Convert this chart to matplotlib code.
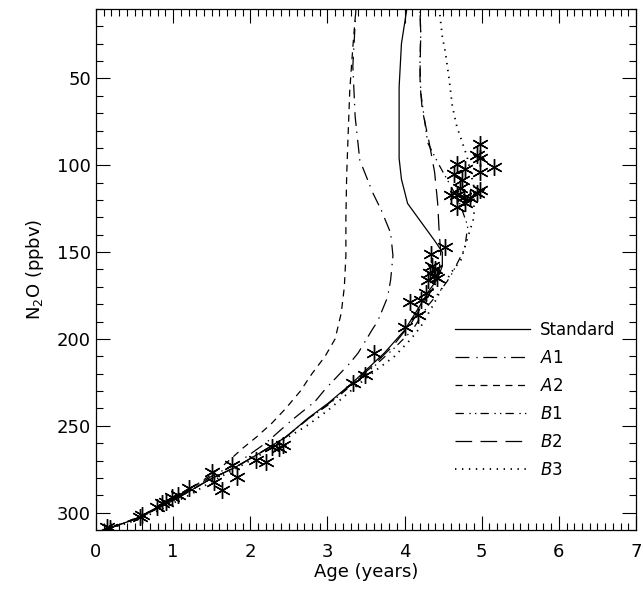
import matplotlib
matplotlib.use("Agg")
import matplotlib.pyplot as plt
from matplotlib.ticker import MultipleLocator

plt.rcParams["font.family"] = "DejaVu Sans"
plt.rcParams["lines.scale_dashes"] = False

# model curves (age in years, N2O in ppbv)
std_age = [0.1, 0.3, 0.55, 0.75, 1.0, 1.2, 1.47, 1.81, 2.15, 2.46, 2.75, 3.01, 3.33, 3.5, 3.74,
           4.0, 4.17, 4.32, 4.42, 4.49, 4.49, 4.40, 4.04, 3.96, 3.93, 3.93, 3.96, 4.03]
std_n2o = [310, 307, 303, 298.6, 293, 288, 281, 273.8, 265, 256.5, 245.6, 237, 225, 218, 208,
           195, 183, 172, 166, 158, 150, 144, 122, 108, 96, 55, 30, 10]

a1_age = [0.1, 0.3, 0.55, 0.75, 1.0, 1.2, 1.5, 1.85, 2.2, 2.54, 2.84, 2.97, 3.29, 3.4, 3.59,
          3.65, 3.78, 3.82, 3.85, 3.82, 3.7, 3.59, 3.42, 3.36, 3.33, 3.37]
a1_n2o = [310, 307, 302.8, 298.3, 292.5, 287.5, 279, 271, 260, 246.7, 236, 229, 214, 208, 194,
          190, 176, 166, 152, 139, 126, 116, 97, 72, 43, 10]

a2_age = [0.1, 0.3, 0.55, 0.75, 1.0, 1.2, 1.5, 1.7, 1.9, 2.08, 2.28, 2.46, 2.65, 2.8, 2.97,
          3.1, 3.18, 3.22, 3.24, 3.24, 3.25, 3.27, 3.29, 3.33, 3.37]
a2_n2o = [310, 307, 302.5, 298, 292, 287, 278, 271, 263, 256.5, 248.5, 240, 230, 220, 210,
          200, 185, 170, 152, 130, 106, 81, 57, 32, 10]

b1_age = [0.1, 0.3, 0.55, 0.75, 1.0, 1.2, 1.47, 1.81, 2.15, 2.46, 2.75, 3.01, 3.33, 3.6, 3.85,
          4.1, 4.3, 4.45, 4.55, 4.62, 4.78, 4.82, 4.7, 4.55, 4.45, 4.3, 4.21, 4.2, 4.21, 4.2]
b1_n2o = [310, 307, 303, 298.6, 293, 288, 281, 273.8, 265, 256.5, 246, 238, 226, 216, 206,
          195, 181, 173, 167, 162, 148, 135, 120, 108, 100, 87, 58, 40, 24, 10]

b2_age = [0.1, 0.3, 0.55, 0.75, 1.0, 1.2, 1.47, 1.81, 2.15, 2.46, 2.75, 3.01, 3.33, 3.6, 3.85,
          4.1, 4.25, 4.38, 4.45, 4.47, 4.45, 4.43, 4.39, 4.32, 4.23, 4.21, 4.2, 4.21, 4.2]
b2_n2o = [310, 307, 303, 298.6, 293, 288, 281, 273.8, 265, 256.5, 246, 237.5, 225.5, 215, 204,
          190, 179, 170, 160, 150, 139, 122, 104, 87, 68, 58, 49, 24, 10]

b3_age = [0.1, 0.3, 0.55, 0.8, 1.0, 1.25, 1.5, 1.8, 2.1, 2.4, 2.75, 3.01, 3.3, 3.6, 3.87,
          4.07, 4.21, 4.39, 4.47, 4.6, 4.73, 4.81, 4.9, 4.9, 4.81, 4.75, 4.68, 4.62, 4.58, 4.53,
          4.49, 4.45]
b3_n2o = [310, 307.5, 304, 299, 294.5, 289, 282, 275, 267.5, 259, 249.5, 241, 230, 219, 210,
          200.7, 193, 179, 172, 162, 154.6, 143, 130, 112.5, 95, 87, 78, 66, 51, 35,
          26, 10]

# observations
obs_age = [0.14, 0.18, 0.57, 0.60, 0.79, 0.86, 0.91, 0.99, 1.06, 1.21, 1.51, 1.53, 1.63, 1.76,
           1.83, 2.07, 2.20, 2.28, 2.37, 2.43, 3.33, 3.49, 3.61, 4.0, 4.07, 4.17, 4.21, 4.28,
           4.30, 4.33, 4.36, 4.38, 4.40, 4.34, 4.53, 4.42, 4.98, 4.94, 4.98, 5.16, 4.98, 4.68,
           4.79, 4.64, 4.75, 4.98, 4.94, 4.60, 4.68, 4.77, 4.85, 4.68, 4.79, 4.72]
obs_n2o = [308.4, 309, 302.6, 301.5, 296.9, 294.6, 294, 291, 290, 286, 276.7, 282.5, 287, 272.7,
           279.6, 269.8, 271, 262.3, 262.9, 261, 225.6, 221, 208, 193, 179, 186, 177.6, 173.6,
           166, 162, 158, 164, 160, 151, 147, 165, 88, 94, 96, 101, 104, 99,
           102, 105, 108.5, 114, 116, 117, 117, 118, 119, 124, 122, 113]

fig = plt.figure(figsize=(6.44, 5.98), dpi=100)
ax = fig.add_axes([0.149, 0.1137, 0.8385, 0.8713])

lw = 0.9
ax.plot(std_age, std_n2o, color="black", lw=lw, ls="-", label="Standard")
ax.plot(a1_age, a1_n2o, color="black", lw=lw, ls=(0, (10, 5, 1, 4)), label="$A1$")
ax.plot(a2_age, a2_n2o, color="black", lw=lw, ls=(0, (5, 4)), label="$A2$")
ax.plot(b1_age, b1_n2o, color="black", lw=lw, ls=(0, (6, 4, 1, 3, 1, 3)), label="$B1$")
ax.plot(b2_age, b2_n2o, color="black", lw=lw, ls=(0, (12, 6)), label="$B2$")
ax.plot(b3_age, b3_n2o, color="black", lw=1.3, ls=(0, (1, 4)), label="$B3$")
ax.plot(obs_age, obs_n2o, ls="none", marker=(6, 2, 0), ms=12, mew=1.0, color="black")

ax.set_xlim(0, 7)
ax.set_ylim(310, 10)
ax.xaxis.set_major_locator(MultipleLocator(1))
ax.xaxis.set_minor_locator(MultipleLocator(0.1))
ax.set_yticks([50, 100, 150, 200, 250, 300])
ax.yaxis.set_minor_locator(MultipleLocator(10))
ax.tick_params(which="both", direction="in", top=True, right=True, labelsize=13, width=0.8)
ax.tick_params(which="major", length=10)
ax.tick_params(which="minor", length=5)
ax.tick_params(axis="x", pad=9)
for s in ax.spines.values():
    s.set_linewidth(0.9)

ax.set_xlabel("Age (years)", fontsize=13, labelpad=2)
ax.set_ylabel("N$_2$O (ppbv)", fontsize=13, labelpad=8)

ax.legend(loc="upper left", bbox_to_anchor=(0.637, 0.43), frameon=False, fontsize=12,
          handlelength=4.5, labelspacing=0.6, handletextpad=0.6)

fig.savefig("out.png", dpi=100)
